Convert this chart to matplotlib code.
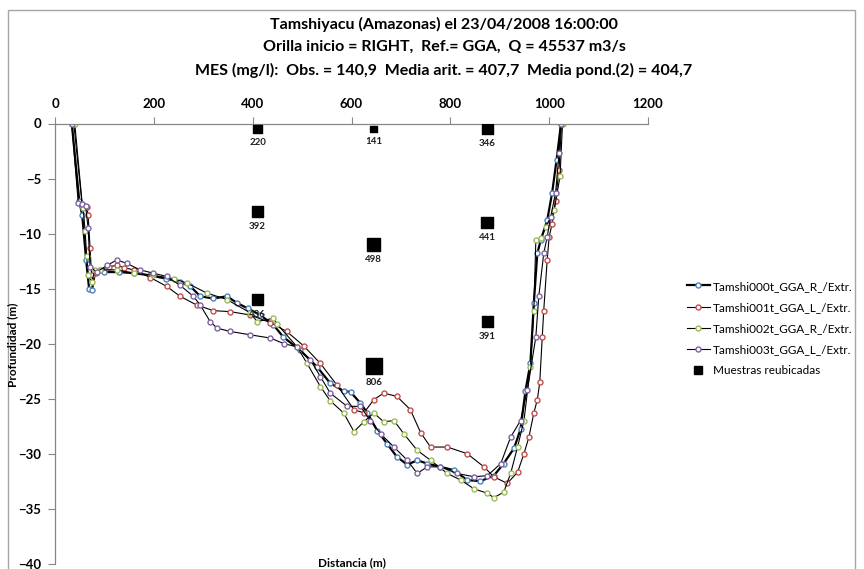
import matplotlib
matplotlib.use("Agg")
import matplotlib.pyplot as plt
from matplotlib.lines import Line2D
from matplotlib.patches import Rectangle

plt.rcParams["font.family"] = ["Lato", "DejaVu Sans"]

# perfiles de profundidad (distancia m, profundidad m)
x0 = [34, 49, 55, 63, 69, 75, 81, 100, 130, 160, 193, 225, 253, 274, 294, 320, 348, 368, 390,
      415, 442, 462, 496, 530, 557, 584, 598, 618, 632, 652, 672, 692, 713, 733, 753, 780, 807,
      834, 861, 888, 908, 929, 942, 952, 962, 969, 976, 983, 996, 1006, 1015, 1024]
y0 = [0, -7.0, -8.3, -12.4, -15.0, -15.1, -13.5, -13.5, -13.5, -13.6, -13.8, -14.1, -14.4, -14.8,
      -15.7, -15.9, -15.7, -16.3, -16.8, -17.4, -18.3, -19.4, -20.6, -22.1, -23.6, -24.3, -24.4,
      -25.4, -26.3, -27.9, -29.1, -30.3, -31.0, -30.6, -30.9, -31.2, -31.5, -32.4, -32.5, -32.0,
      -30.9, -29.5, -27.8, -24.3, -21.8, -16.3, -11.8, -10.6, -8.8, -6.3, -3.3, 0]

x1 = [38, 55, 64, 67, 71, 74, 82, 91, 110, 125, 140, 159, 193, 226, 253, 287, 320, 355, 395, 436,
      469, 503, 537, 571, 605, 625, 645, 665, 692, 719, 740, 760, 794, 834, 868, 888, 915, 936,
      949, 959, 969, 976, 981, 986, 989, 996, 1000, 1006, 1013, 1020, 1025]
y1 = [0, -7.4, -7.6, -8.3, -11.3, -13.8, -13.6, -13.3, -13.0, -12.9, -13.1, -13.3, -14.0, -14.8,
      -15.7, -16.5, -17.0, -17.1, -17.4, -18.1, -18.9, -20.2, -21.8, -23.8, -26.0, -26.3, -25.1,
      -24.5, -24.8, -26.0, -28.1, -29.4, -29.4, -30.0, -31.2, -32.1, -32.7, -31.7, -30.0, -28.5,
      -26.3, -25.1, -23.5, -19.4, -17.0, -12.4, -10.3, -9.1, -7.0, -4.2, 0]

x2 = [40, 55, 57, 61, 64, 67, 74, 81, 91, 125, 159, 199, 240, 267, 307, 348, 395, 409, 442, 449,
      490, 510, 537, 557, 584, 605, 625, 645, 665, 686, 706, 733, 760, 794, 821, 848, 875, 888,
      908, 922, 936, 949, 962, 969, 973, 983, 993, 1010, 1022, 1027]
y2 = [0, -7.3, -7.7, -9.8, -12.0, -13.8, -14.4, -13.3, -13.3, -13.3, -13.6, -13.8, -14.1, -14.5,
      -15.4, -16.0, -17.2, -18.0, -17.7, -18.2, -20.3, -21.8, -23.9, -25.2, -26.3, -28.0, -27.1,
      -26.3, -27.1, -27.0, -28.2, -29.7, -30.6, -31.8, -32.4, -33.2, -33.6, -34.0, -33.5, -31.8,
      -29.4, -27.0, -22.1, -17.0, -10.6, -10.4, -9.4, -7.9, -4.8, 0]

x3 = [34, 47, 55, 62, 67, 71, 84, 105, 125, 145, 172, 199, 226, 253, 280, 294, 314, 328, 355, 395,
      436, 463, 490, 517, 537, 557, 591, 618, 638, 659, 686, 713, 733, 753, 780, 814, 848, 875,
      902, 922, 942, 956, 973, 979, 989, 996, 1003, 1013, 1020, 1023]
y3 = [0, -7.2, -7.3, -7.5, -9.5, -13.0, -13.5, -12.9, -12.4, -12.7, -13.3, -13.6, -13.9, -14.7,
      -15.7, -16.5, -18.0, -18.6, -18.9, -19.2, -19.5, -20.0, -20.3, -21.5, -23.0, -24.5, -25.7,
      -25.7, -27.0, -28.2, -29.4, -30.6, -31.8, -31.2, -31.2, -31.8, -32.1, -32.0, -30.9, -28.5,
      -27.0, -24.2, -19.4, -15.7, -11.8, -10.3, -8.5, -6.3, -2.7, 0]

series_names = ["Tamshi000t_GGA_R_/Extr.", "Tamshi001t_GGA_L_/Extr.",
                "Tamshi002t_GGA_R_/Extr.", "Tamshi003t_GGA_L_/Extr."]

# muestras reubicadas
mx = [410, 645, 875, 410, 645, 875, 410, 875, 645]
my = [-0.5, -0.5, -0.5, -8, -11, -9, -16, -18, -22]
mes = [220, 141, 346, 392, 498, 441, 436, 391, 806]

colors = ["#4F81BD", "#C0504D", "#9BBB59", "#8064A2"]
line_w = [1.6, 0.8, 0.8, 0.8]

fig = plt.figure(figsize=(8.64, 5.69), dpi=100)
fig.patches.append(Rectangle((8 / 864, -0.1), 847 / 864, 1.1 - 10 / 569, transform=fig.transFigure,
                             fill=False, edgecolor="#A6A6A6", lw=1))

ax = fig.add_axes([55 / 864, 1 - 563.7 / 569, 593 / 864, 440.2 / 569])

handles = []
for xs, ys, c, lw, name in zip([x0, x1, x2, x3], [y0, y1, y2, y3], colors, line_w, series_names):
    h, = ax.plot(xs, ys, color="black", lw=lw, marker="o", ms=3.6, mfc="white", mec=c, mew=1.0,
                 label=name)
    handles.append(h)

sizes = [v * 0.165 for v in mes]
ax.scatter(mx, my, s=sizes, marker="s", color="black", zorder=5)
for x, y, v, s in zip(mx, my, mes, sizes):
    ax.annotate(str(v), (x, y), xytext=(0, -(s ** 0.5) / 2 - 6.5), textcoords="offset points",
                ha="center", va="center", fontsize=7, fontweight="bold", color="#1F1F1F")

handles.append(Line2D([], [], ls="none", marker="s", color="black", ms=5.5))

ax.set_xlim(0, 1200)
ax.set_ylim(-40, 0)
ax.set_xticks(range(0, 1201, 200))
ax.set_yticks(range(-40, 1, 5))
ax.xaxis.tick_top()
for sp in ["right", "bottom"]:
    ax.spines[sp].set_visible(False)
for sp in ["left", "top"]:
    ax.spines[sp].set_color("#868686")
    ax.spines[sp].set_linewidth(0.9)
ax.tick_params(axis="both", direction="out", length=5, color="#868686", labelsize=9.5, pad=5)
for lab in ax.get_xticklabels() + ax.get_yticklabels():
    lab.set_fontweight("bold")

fig.text(13 / 864, 1 - 345 / 569, "Profundidad (m)", rotation=90, ha="center", va="center",
         fontsize=8.5, fontweight="bold")
fig.text(352 / 864, 1 - 563 / 569, "Distancia (m)", ha="center", va="center",
         fontsize=8.5, fontweight="bold")

titles = ["Tamshiyacu (Amazonas) el 23/04/2008 16:00:00",
          "Orilla inicio = RIGHT,  Ref.= GGA,  Q = 45537 m3/s",
          "MES (mg/l):  Obs. = 140,9  Media arit. = 407,7  Media pond.(2) = 404,7"]
for i, t in enumerate(titles):
    fig.text(444 / 864, 1 - (24 + 23 * i) / 569, t, ha="center", va="center",
             fontsize=11.5, fontweight="bold")

fig.legend(handles, series_names + ["Muestras reubicadas"], loc="upper left",
           bbox_to_anchor=(676 / 864, 1 - 270 / 569), frameon=False, fontsize=8.5,
           numpoints=1, handlelength=2.0, handletextpad=0.25, labelspacing=0.85)

fig.savefig("out.png", dpi=100)
